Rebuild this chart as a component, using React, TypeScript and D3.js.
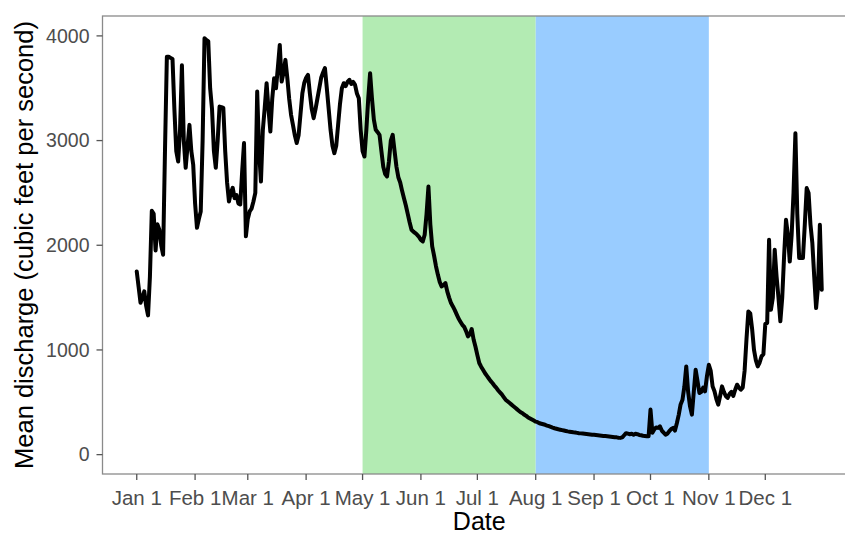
import React from 'react';
import * as d3 from 'd3';

// mean daily discharge, one array per month (non-leap year)
const janFlow = [1750, 1600, 1450, 1500, 1560, 1420, 1330, 1700, 2330, 2300, 1950, 2200, 2150, 2000, 1910, 2900, 3800, 3800, 3790, 3780, 3300, 2900, 2800, 3100, 3720, 3000, 2740, 2950, 3150, 2900, 2770];
const febFlow = [2400, 2167, 2250, 2323, 3000, 3978, 3960, 3950, 3500, 3300, 2900, 2740, 3000, 3325, 3320, 3313, 2900, 2600, 2418, 2500, 2549, 2450, 2480, 2400, 2390, 2700, 2976, 2085];
const marFlow = [2250, 2323, 2350, 2418, 2500, 3468, 2900, 2609, 3100, 3313, 3548, 3300, 3086, 3400, 3596, 3500, 3700, 3914, 3564, 3650, 3771, 3600, 3400, 3246, 3150, 3050, 2976, 3050, 3250, 3450, 3550];
const aprFlow = [3600, 3628, 3450, 3300, 3214, 3300, 3400, 3500, 3600, 3650, 3692, 3500, 3300, 3100, 2950, 2880, 2950, 3150, 3350, 3500, 3548, 3520, 3560, 3580, 3540, 3560, 3532, 3450, 3405, 3100];
const mayFlow = [2900, 2848, 3100, 3400, 3644, 3400, 3200, 3103, 3080, 3055, 2900, 2750, 2680, 2657, 2800, 3000, 3055, 2900, 2750, 2650, 2600, 2520, 2450, 2380, 2300, 2220, 2148, 2130, 2116, 2100, 2080];
const junFlow = [2050, 2036, 2100, 2300, 2561, 2200, 1989, 1900, 1800, 1720, 1650, 1607, 1620, 1639, 1560, 1500, 1448, 1416, 1380, 1340, 1300, 1270, 1240, 1220, 1180, 1129, 1150, 1200, 1100, 1030];
const julFlow = [950, 875, 840, 810, 780, 755, 730, 705, 684, 660, 640, 615, 595, 575, 550, 525, 510, 495, 480, 465, 450, 435, 420, 405, 395, 380, 370, 355, 345, 335, 325];
const augFlow = [315, 310, 300, 295, 290, 285, 278, 272, 265, 258, 252, 247, 242, 238, 234, 230, 226, 222, 219, 216, 213, 211, 208, 205, 203, 201, 199, 197, 195, 193, 191];
const sepFlow = [189, 187, 185, 183, 181, 179, 177, 175, 173, 171, 169, 167, 165, 162, 160, 165, 185, 205, 200, 195, 200, 190, 200, 195, 188, 185, 180, 178, 176, 176];
const octFlow = [430, 210, 240, 260, 255, 270, 230, 210, 191, 200, 225, 245, 255, 230, 300, 380, 480, 525, 650, 843, 600, 461, 382, 600, 811, 700, 589, 600, 640, 605, 750];
const novFlow = [859, 800, 652, 605, 530, 477, 560, 652, 600, 560, 541, 580, 600, 560, 620, 668, 640, 620, 640, 800, 1100, 1368, 1350, 1200, 1000, 900, 843, 880, 939, 960];
const decFlow = [1250, 1257, 2052, 1384, 1500, 1957, 1700, 1500, 1273, 1500, 1900, 2243, 2100, 1845, 2100, 2500, 3070, 2300, 1878, 1880, 1878, 2200, 2546, 2500, 2200, 2021, 1700, 1400, 1600, 2196, 1575];

const monthLabels = ['Jan 1', 'Feb 1', 'Mar 1', 'Apr 1', 'May 1', 'Jun 1', 'Jul 1', 'Aug 1', 'Sep 1', 'Oct 1', 'Nov 1', 'Dec 1'];
const yTicks = [0, 1000, 2000, 3000, 4000];

// shaded seasons: [start month, end month, colour]
const seasons: [number, number, string][] = [
    [4, 7, '#b3ebb3'],
    [7, 10, '#99ccff'],
];

const YEAR = 2019;
const day = (m: number, d: number) => new Date(Date.UTC(YEAR, m, d));

const W = 845, H = 536;
const PANEL = { LEFT: 102.5, RIGHT: 856, TOP: 16, BOTTOM: 474 };
const FONT = '"Liberation Sans", Arial, Helvetica, sans-serif';

export default function App() {
    const flow = [...janFlow, ...febFlow, ...marFlow, ...aprFlow, ...mayFlow, ...junFlow,
        ...julFlow, ...augFlow, ...sepFlow, ...octFlow, ...novFlow, ...decFlow];
    const data = flow.map((v, i) => ({ date: day(0, 1 + i), value: v }));

    const first = data[0].date, last = data[data.length - 1].date;
    const pad = (last.getTime() - first.getTime()) * 0.05;
    const x = d3.scaleUtc()
        .domain([new Date(first.getTime() - pad), new Date(last.getTime() + pad)])
        .range([PANEL.LEFT, PANEL.RIGHT]);
    const y = d3.scaleLinear().domain([-185, 4190]).range([PANEL.BOTTOM, PANEL.TOP]);

    const line = d3.line<{ date: Date; value: number }>()
        .x(d => x(d.date))
        .y(d => y(d.value));

    const monthTicks = monthLabels.map((label, m) => ({ label, pos: x(day(m, 1)) }));

    return (
        <svg width={W} height={H} style={{ position: 'absolute', left: 0, top: 0, background: '#fff' }}>
            {seasons.map(([a, b, c], i) => (
                <rect key={`season-${i}`} x={x(day(a, 1))} y={PANEL.TOP} width={x(day(b, 1)) - x(day(a, 1))}
                    height={PANEL.BOTTOM - PANEL.TOP} fill={c} />
            ))}
            <path d={line(data) || ''} fill='none' stroke='#000' strokeWidth={4} strokeLinejoin='round' strokeLinecap='round' />
            <rect x={PANEL.LEFT} y={PANEL.TOP} width={PANEL.RIGHT - PANEL.LEFT} height={PANEL.BOTTOM - PANEL.TOP}
                fill='none' stroke='#8a8a8a' strokeWidth={1.3} />

            {/* y axis */}
            <g fontFamily={FONT} fontSize={19.5} fill='#4d4d4d'>
                {yTicks.map(t => (
                    <g key={`y-${t}`}>
                        <line x1={PANEL.LEFT - 6} x2={PANEL.LEFT} y1={y(t)} y2={y(t)} stroke='#555' strokeWidth={1.3} />
                        <text x={PANEL.LEFT - 13} y={y(t)} dy='0.35em' textAnchor='end'>{t}</text>
                    </g>
                ))}
            </g>

            {/* x axis */}
            <g fontFamily={FONT} fontSize={20.5} fill='#4d4d4d'>
                {monthTicks.map(t => (
                    <g key={`x-${t.label}`}>
                        <line x1={t.pos} x2={t.pos} y1={PANEL.BOTTOM} y2={PANEL.BOTTOM + 6} stroke='#555' strokeWidth={1.3} />
                        <text x={t.pos} y={PANEL.BOTTOM + 31} textAnchor='middle'>{t.label}</text>
                    </g>
                ))}
            </g>

            <text x={(PANEL.LEFT + PANEL.RIGHT) / 2} y={530} textAnchor='middle' fontFamily={FONT} fontSize={25} fill='#000'>Date</text>
            <text transform={`translate(33, ${(PANEL.TOP + PANEL.BOTTOM) / 2}) rotate(-90)`} textAnchor='middle'
                fontFamily={FONT} fontSize={25.5} fill='#000'>Mean discharge (cubic feet per second)</text>
        </svg>
    );
}
